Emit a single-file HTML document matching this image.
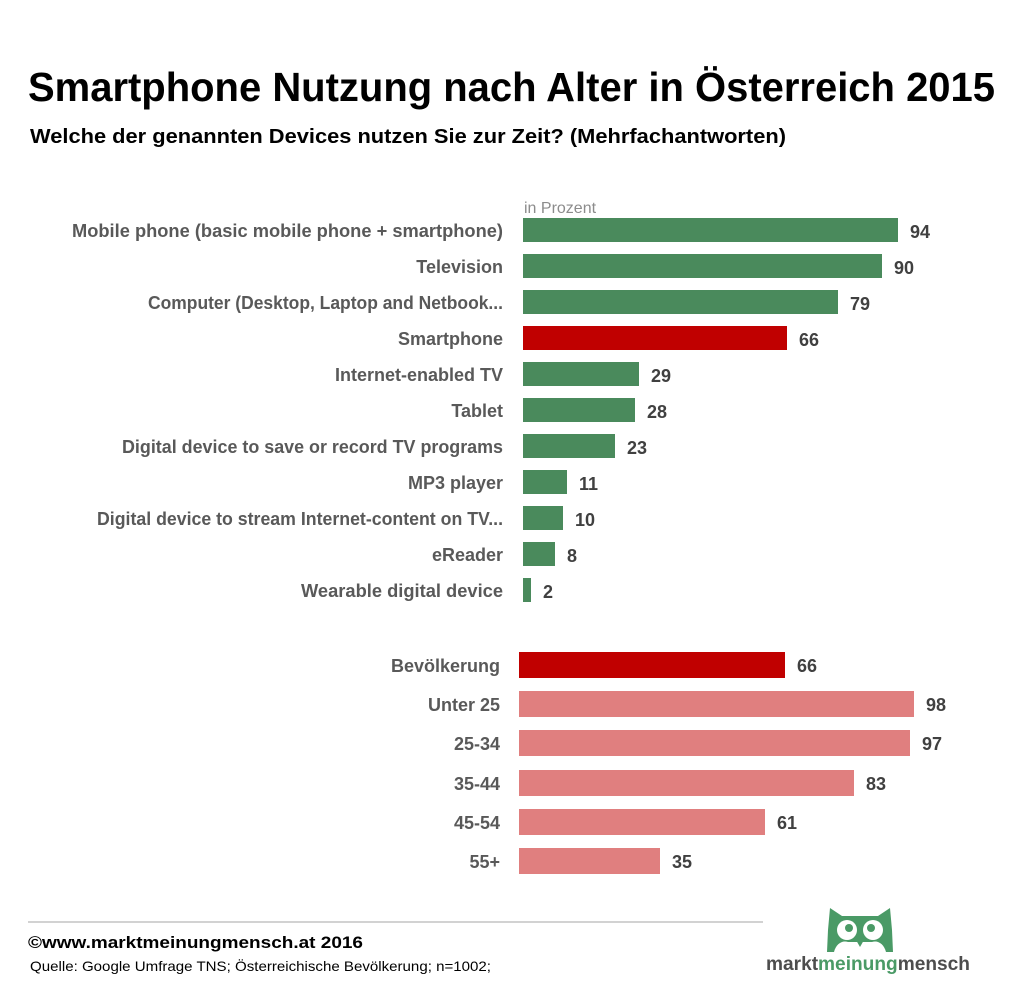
<!DOCTYPE html>
<html><head><meta charset="utf-8"><style>
html,body{margin:0;padding:0;background:#fff;}
svg{display:block;font-family:"Liberation Sans",sans-serif;}
</style></head><body>
<svg width="1026" height="1000" viewBox="0 0 1026 1000">
<text x="28" y="101" font-size="41" font-weight="bold" fill="#000" textLength="967" lengthAdjust="spacingAndGlyphs">Smartphone Nutzung nach Alter in Österreich 2015</text>
<text x="30" y="143" font-size="20" font-weight="bold" fill="#000" textLength="756" lengthAdjust="spacingAndGlyphs">Welche der genannten Devices nutzen Sie zur Zeit? (Mehrfachantworten)</text>
<text x="524" y="213" font-size="16" fill="#8c8c8c">in Prozent</text>
<g font-size="18" font-weight="bold" fill="#595959" text-anchor="end">
<text x="503" y="237" textLength="431" lengthAdjust="spacingAndGlyphs">Mobile phone (basic mobile phone + smartphone)</text>
<text x="503" y="273">Television</text>
<text x="503" y="309" textLength="355" lengthAdjust="spacingAndGlyphs">Computer (Desktop, Laptop and Netbook...</text>
<text x="503" y="345">Smartphone</text>
<text x="503" y="381">Internet-enabled TV</text>
<text x="503" y="417">Tablet</text>
<text x="503" y="453" textLength="381" lengthAdjust="spacingAndGlyphs">Digital device to save or record TV programs</text>
<text x="503" y="489">MP3 player</text>
<text x="503" y="525" textLength="406" lengthAdjust="spacingAndGlyphs">Digital device to stream Internet-content on TV...</text>
<text x="503" y="561">eReader</text>
<text x="503" y="597" textLength="202" lengthAdjust="spacingAndGlyphs">Wearable digital device</text>
<text x="500" y="672">Bevölkerung</text>
<text x="500" y="711">Unter 25</text>
<text x="500" y="750">25-34</text>
<text x="500" y="790">35-44</text>
<text x="500" y="829">45-54</text>
<text x="500" y="868">55+</text>
</g>
<g fill="#4a8a5c">
<rect x="523" y="218" width="375" height="24"/>
<rect x="523" y="254" width="359" height="24"/>
<rect x="523" y="290" width="315" height="24"/>
<rect x="523" y="362" width="116" height="24" />
<rect x="523" y="398" width="112" height="24"/>
<rect x="523" y="434" width="92" height="24"/>
<rect x="523" y="470" width="44" height="24"/>
<rect x="523" y="506" width="40" height="24"/>
<rect x="523" y="542" width="32" height="24"/>
<rect x="523" y="578" width="8" height="24"/>
</g>
<rect x="523" y="326" width="264" height="24" fill="#c00000"/>
<rect x="519" y="652" width="266" height="26" fill="#c00000"/>
<g fill="#e07f7f">
<rect x="519" y="691" width="395" height="26"/>
<rect x="519" y="730" width="391" height="26"/>
<rect x="519" y="770" width="335" height="26"/>
<rect x="519" y="809" width="246" height="26"/>
<rect x="519" y="848" width="141" height="26"/>
</g>
<g font-size="18" font-weight="bold" fill="#404040">
<text x="910" y="238">94</text>
<text x="894" y="274">90</text>
<text x="850" y="310">79</text>
<text x="799" y="346">66</text>
<text x="651" y="382">29</text>
<text x="647" y="418">28</text>
<text x="627" y="454">23</text>
<text x="579" y="490">11</text>
<text x="575" y="526">10</text>
<text x="567" y="562">8</text>
<text x="543" y="598">2</text>
<text x="797" y="672">66</text>
<text x="926" y="711">98</text>
<text x="922" y="750">97</text>
<text x="866" y="790">83</text>
<text x="777" y="829">61</text>
<text x="672" y="868">35</text>
</g>
<line x1="28" y1="922" x2="763" y2="922" stroke="#a6a6a6" stroke-width="1"/>
<text x="28" y="948" font-size="17" font-weight="bold" fill="#000" textLength="335" lengthAdjust="spacingAndGlyphs">©www.marktmeinungmensch.at 2016</text>
<text x="30" y="971" font-size="14" fill="#000" textLength="461" lengthAdjust="spacingAndGlyphs">Quelle: Google Umfrage TNS; Österreichische Bevölkerung; n=1002;</text>
<g fill="#4a9a66">
<path d="M830 908 L842 916 L878 916 L890 908 L892 930 L893 952 L886 952 C884 944 878 940 872 942 L848 942 C842 940 836 944 834 952 L827 952 L828 930 Z"/>
</g>
<circle cx="847" cy="930" r="10" fill="#fff"/>
<circle cx="873" cy="930" r="10" fill="#fff"/>
<circle cx="849" cy="928" r="4" fill="#4a9a66"/>
<circle cx="871" cy="928" r="4" fill="#4a9a66"/>
<path d="M856 940 L860 947 L864 940 Z" fill="#4a9a66"/>
<text x="766" y="970" font-size="19" font-weight="bold" textLength="204" lengthAdjust="spacingAndGlyphs"><tspan fill="#4d4d4d">markt</tspan><tspan fill="#4a9a66">meinung</tspan><tspan fill="#4d4d4d">mensch</tspan></text>
</svg>
</body></html>
